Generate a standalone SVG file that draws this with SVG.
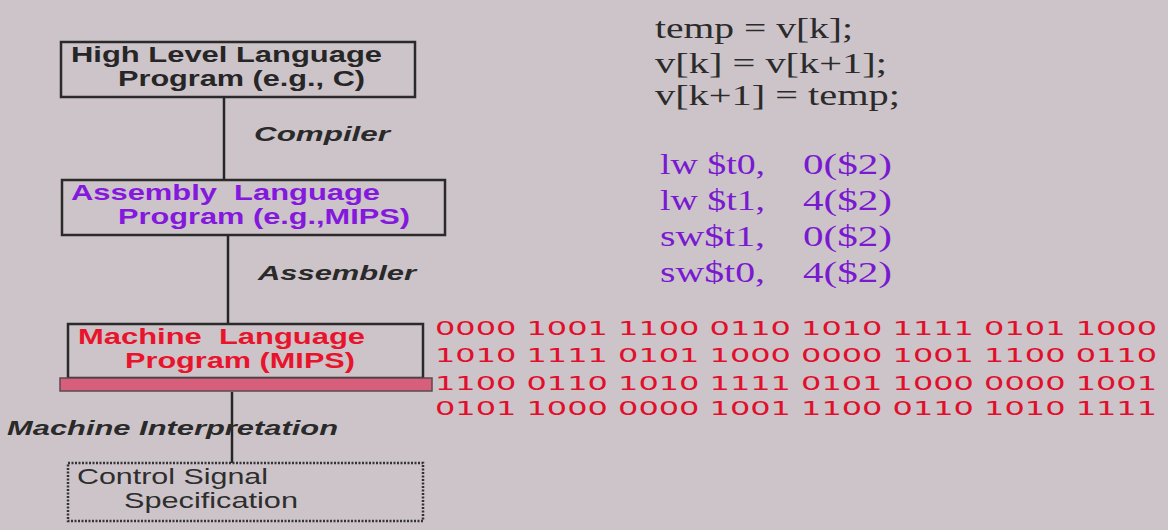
<svg xmlns="http://www.w3.org/2000/svg" width="1168" height="530" viewBox="0 0 1168 530">
<style>
.box{fill:none;stroke:#2a2a2a;stroke-width:2.5}
.dot{fill:none;stroke:#333;stroke-width:2.5;stroke-dasharray:2 1.5}
.lbl{font-family:"Liberation Sans",Arial,sans-serif;font-weight:bold;font-size:22px}
.blk{fill:#262626}
.pur{fill:#8418dc}
.red{fill:#e8142c}
.ital{font-family:"Liberation Sans",Arial,sans-serif;font-weight:bold;font-style:italic;font-size:21px;fill:#2a2a2a}
.norm{font-family:"Liberation Sans",Arial,sans-serif;font-size:22px;fill:#2e2e2e}
.serif{font-family:"Liberation Serif","Times New Roman",serif;font-size:29px}
.code{fill:#2b2b2b}
.asm{fill:#7a1ad0}
.bin{font-family:"DejaVu Sans",Verdana,sans-serif;font-size:19px;fill:#e0102c}
.conn{stroke:#262626;stroke-width:2.5}
</style>
<rect width="1168" height="530" fill="#cdc4c9"/>
<g id="connectors">
<line class="conn" x1="224" y1="97" x2="224" y2="180"/>
<line class="conn" x1="228" y1="235" x2="228" y2="324"/>
<line class="conn" x1="232" y1="392" x2="232" y2="463"/>
<text class="ital" x="254" y="141" textLength="136" lengthAdjust="spacingAndGlyphs">Compiler</text>
<text class="ital" x="258" y="280" textLength="158" lengthAdjust="spacingAndGlyphs">Assembler</text>
<text class="ital" x="7" y="435" textLength="331" lengthAdjust="spacingAndGlyphs">Machine Interpretation</text>
</g>
<g id="high-level">
<rect class="box" x="61" y="42" width="354" height="55"/>
<text class="lbl blk" x="71" y="62" textLength="311" lengthAdjust="spacingAndGlyphs">High Level Language</text>
<text class="lbl blk" x="118" y="86" textLength="247" lengthAdjust="spacingAndGlyphs">Program (e.g., C)</text>
</g>
<g id="assembly">
<rect class="box" x="62" y="180" width="383" height="55"/>
<text class="lbl pur" x="71" y="200" textLength="309" lengthAdjust="spacingAndGlyphs" xml:space="preserve">Assembly  Language</text>
<text class="lbl pur" x="118" y="224" textLength="292" lengthAdjust="spacingAndGlyphs">Program (e.g.,MIPS)</text>
</g>
<g id="machine">
<rect class="box" x="68" y="324" width="355" height="54"/>
<rect x="60" y="378" width="372" height="13" fill="#d85f7b" stroke="#5a4a50" stroke-width="1.5"/>
<text class="lbl red" x="78" y="344" textLength="287" lengthAdjust="spacingAndGlyphs" xml:space="preserve">Machine  Language</text>
<text class="lbl red" x="125" y="368" textLength="230" lengthAdjust="spacingAndGlyphs">Program (MIPS)</text>
</g>
<g id="control">
<rect class="dot" x="68" y="463" width="355" height="58"/>
<text class="norm" x="77" y="484" textLength="191" lengthAdjust="spacingAndGlyphs">Control Signal</text>
<text class="norm" x="124" y="508" textLength="174" lengthAdjust="spacingAndGlyphs">Specification</text>
</g>
<g id="c-code">
<text class="serif code" x="655" y="38" textLength="198" lengthAdjust="spacingAndGlyphs">temp = v[k];</text>
<text class="serif code" x="655" y="73" textLength="232" lengthAdjust="spacingAndGlyphs">v[k] = v[k+1];</text>
<text class="serif code" x="655" y="105" textLength="245" lengthAdjust="spacingAndGlyphs">v[k+1] = temp;</text>
</g>
<g id="mips-asm">
<text class="serif asm" x="660" y="174" textLength="105" lengthAdjust="spacingAndGlyphs">lw $t0,</text>
<text class="serif asm" x="803" y="174" textLength="89" lengthAdjust="spacingAndGlyphs">0($2)</text>
<text class="serif asm" x="660" y="210" textLength="105" lengthAdjust="spacingAndGlyphs">lw $t1,</text>
<text class="serif asm" x="803" y="210" textLength="89" lengthAdjust="spacingAndGlyphs">4($2)</text>
<text class="serif asm" x="660" y="246" textLength="105" lengthAdjust="spacingAndGlyphs">sw$t1,</text>
<text class="serif asm" x="803" y="246" textLength="89" lengthAdjust="spacingAndGlyphs">0($2)</text>
<text class="serif asm" x="660" y="282" textLength="105" lengthAdjust="spacingAndGlyphs">sw$t0,</text>
<text class="serif asm" x="803" y="282" textLength="89" lengthAdjust="spacingAndGlyphs">4($2)</text>
</g>
<g id="machine-code">
<text class="bin" x="435" y="335" textLength="722" lengthAdjust="spacingAndGlyphs">0000 1001 1100 0110 1010 1111 0101 1000</text>
<text class="bin" x="435" y="362" textLength="722" lengthAdjust="spacingAndGlyphs">1010 1111 0101 1000 0000 1001 1100 0110</text>
<text class="bin" x="435" y="390" textLength="722" lengthAdjust="spacingAndGlyphs">1100 0110 1010 1111 0101 1000 0000 1001</text>
<text class="bin" x="435" y="415" textLength="722" lengthAdjust="spacingAndGlyphs">0101 1000 0000 1001 1100 0110 1010 1111</text>
</g>
</svg>
